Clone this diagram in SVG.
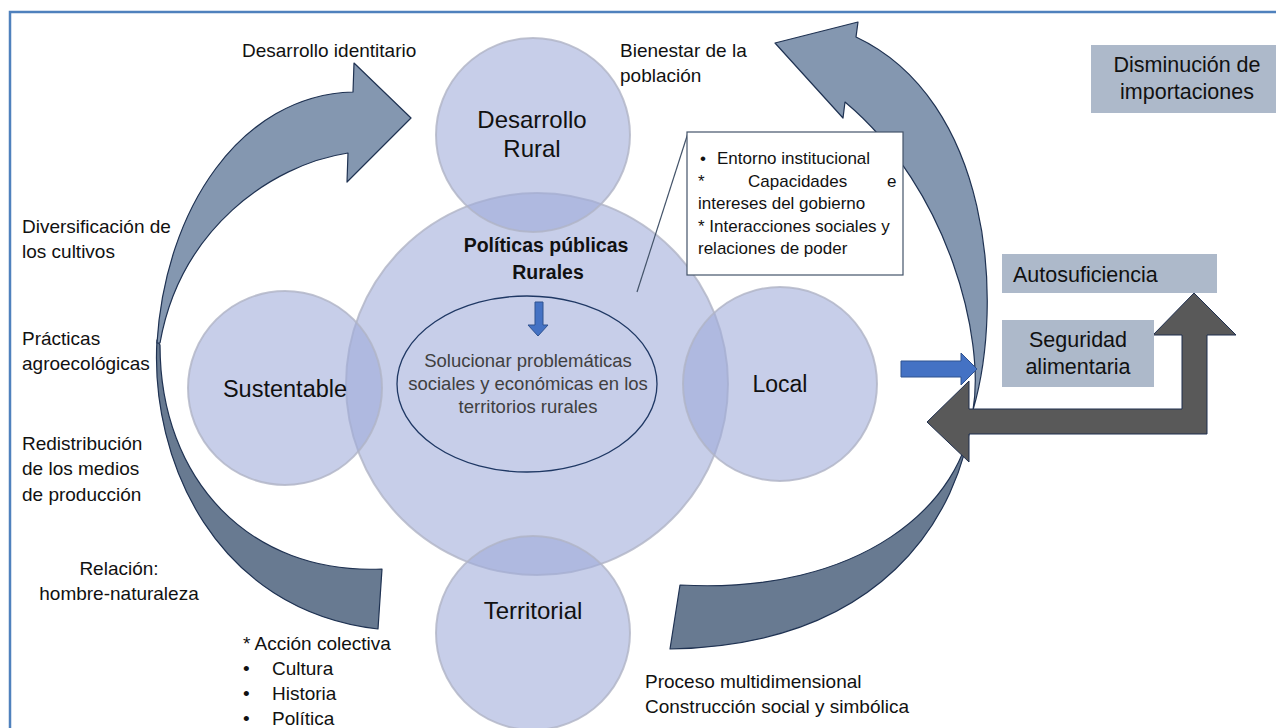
<svg xmlns="http://www.w3.org/2000/svg" width="1276" height="728" viewBox="0 0 1276 728">
  <defs>
    <style>
      text { font-family: "Liberation Sans", Arial, sans-serif; fill: #111; }
      .lbl { font-size: 19px; }
      .big { font-size: 24px; }
      .box { font-size: 17px; }
      .tag { font-size: 21.5px; }
      .circle { fill: #9eaad9; fill-opacity: 0.58; stroke: #b0b4c6; stroke-width: 2; stroke-opacity: 0.8; }
      .band-light { fill: #8497b0; stroke: #1f3252; stroke-width: 1.2; stroke-linejoin: round; }
      .band-dark { fill: #687a91; stroke: #1f3252; stroke-width: 1.2; stroke-linejoin: round; }
      .blue-arrow { fill: #4472c4; stroke: #2f528f; stroke-width: 1; }
      .tagbox { fill: #adb9ca; }
    </style>
  </defs>

  <rect width="1276" height="728" fill="#ffffff"/>
  <!-- page frame -->
  <rect x="10" y="12" width="1300" height="800" fill="none" stroke="#4f81bd" stroke-width="2.5"/>

  <!-- central circle -->
  <g id="node-politicas">
    <circle class="circle" cx="537" cy="384" r="191"/>
    <text x="546" y="252" text-anchor="middle" font-size="19.5" font-weight="bold">Políticas públicas</text>
    <text x="548" y="279" text-anchor="middle" font-size="19.5" font-weight="bold">Rurales</text>
  </g>

  <g id="node-desarrollo-rural">
    <circle class="circle" cx="533" cy="135" r="97"/>
    <text class="big" x="532" y="128" text-anchor="middle">Desarrollo</text>
    <text class="big" x="532" y="157" text-anchor="middle">Rural</text>
  </g>

  <g id="node-sustentable">
    <circle class="circle" cx="285" cy="388" r="97"/>
    <text x="285" y="397" text-anchor="middle" font-size="23.5">Sustentable</text>
  </g>

  <g id="node-local">
    <circle class="circle" cx="780" cy="384" r="97"/>
    <text x="780" y="392" text-anchor="middle" font-size="23">Local</text>
  </g>

  <g id="node-territorial">
    <circle class="circle" cx="533" cy="633" r="97"/>
    <text class="big" x="533" y="619" text-anchor="middle">Territorial</text>
  </g>

  <!-- inner goal ellipse -->
  <g id="node-objetivo">
    <ellipse cx="527" cy="384" rx="130" ry="88" fill="none" stroke="#1f3864" stroke-width="1.3"/>
    <text x="528" y="367" text-anchor="middle" font-size="18.5" style="fill:#404040">Solucionar problemáticas</text>
    <text x="528" y="390" text-anchor="middle" font-size="18.5" style="fill:#404040">sociales y económicas en los</text>
    <text x="528" y="413" text-anchor="middle" font-size="18.5" style="fill:#404040">territorios rurales</text>
  </g>

  <!-- curved flow bands and arrows -->
  <g id="connectors">
    <!-- left band: back part, then front part with head -->
    <path class="band-dark" d="M157,340 C150,460 215,610 378,629 L382,569 C250,575 160,480 160,345 Z"/>
    <path class="band-light" d="M157,343 C165,210 240,95 353,92 L354,63 L411,118 L347,182 L348,153 C270,165 180,230 160,343 Z"/>
    <!-- right band: back part, then front part with head -->
    <path class="band-dark" d="M973,410 C960,520 880,645 670,649 L680,585 C860,595 965,505 973,410 Z"/>
    <path class="band-light" d="M856,37 L858,22 L775,43 L843,118 L845,102 C950,190 985,340 973,410 C1005,300 990,100 856,37 Z"/>
    <!-- callout pointer -->
    <line x1="688" y1="133" x2="637" y2="292" stroke="#44546a" stroke-width="1.2"/>
    <!-- arrow from Local -->
    <path class="blue-arrow" d="M901,361 L961,361 L961,353 L977,369 L961,385 L961,377 L901,377 Z"/>
    <!-- down arrow inside the centre -->
    <path class="blue-arrow" d="M535,302 L543,302 L543,325 L548,325 L538,336 L528,325 L535,325 Z"/>
    <!-- bent two-way arrow -->
    <path d="M927,422 L969,381 L969,409 L1182,409 L1182,335 L1153,335 L1194,293 L1236,335 L1207,335 L1207,434 L969,434 L969,462 Z" fill="#595959" stroke="#1f2f4f" stroke-width="1"/>
  </g>

  <!-- callout box -->
  <g id="node-callout">
    <rect x="687" y="132" width="216" height="143" fill="#ffffff" stroke="#44546a" stroke-width="1.2"/>
    <text class="box" x="700" y="164">•</text>
    <text class="box" x="717" y="164">Entorno institucional</text>
    <text class="box" x="698" y="187">*</text>
    <text class="box" x="748" y="187">Capacidades</text>
    <text class="box" x="887" y="187">e</text>
    <text class="box" x="698" y="209">intereses del gobierno</text>
    <text class="box" x="698" y="232">* Interacciones sociales y</text>
    <text class="box" x="698" y="254">relaciones de poder</text>
  </g>

  <!-- outcome boxes -->
  <g id="node-importaciones">
    <rect class="tagbox" x="1091" y="45" width="190" height="68"/>
    <text class="tag" x="1187" y="72" text-anchor="middle">Disminución de</text>
    <text class="tag" x="1187" y="99" text-anchor="middle">importaciones</text>
  </g>
  <g id="node-autosuficiencia">
    <rect class="tagbox" x="1002" y="254" width="215" height="39"/>
    <text class="tag" x="1013" y="282">Autosuficiencia</text>
  </g>
  <g id="node-seguridad">
    <rect class="tagbox" x="1002" y="320" width="152" height="67"/>
    <text class="tag" x="1078" y="347" text-anchor="middle">Seguridad</text>
    <text class="tag" x="1078" y="374" text-anchor="middle">alimentaria</text>
  </g>

  <!-- free labels -->
  <g id="labels">
    <text class="lbl" x="242" y="57">Desarrollo identitario</text>
    <text class="lbl" x="620" y="57">Bienestar de la</text>
    <text class="lbl" x="620" y="82">población</text>

    <text class="lbl" x="22" y="233">Diversificación de</text>
    <text class="lbl" x="22" y="258">los cultivos</text>
    <text class="lbl" x="22" y="345">Prácticas</text>
    <text class="lbl" x="22" y="370">agroecológicas</text>
    <text class="lbl" x="22" y="450">Redistribución</text>
    <text class="lbl" x="22" y="475">de los medios</text>
    <text class="lbl" x="22" y="501">de producción</text>
    <text class="lbl" x="119" y="575" text-anchor="middle">Relación:</text>
    <text class="lbl" x="119" y="600" text-anchor="middle">hombre-naturaleza</text>

    <text class="lbl" x="243" y="650">* Acción colectiva</text>
    <text class="lbl" x="243" y="675">•</text>
    <text class="lbl" x="272" y="675">Cultura</text>
    <text class="lbl" x="243" y="700">•</text>
    <text class="lbl" x="272" y="700">Historia</text>
    <text class="lbl" x="243" y="725">•</text>
    <text class="lbl" x="272" y="725">Política</text>

    <text class="lbl" x="645" y="688">Proceso multidimensional</text>
    <text class="lbl" x="645" y="713">Construcción social y simbólica</text>
  </g>
</svg>
